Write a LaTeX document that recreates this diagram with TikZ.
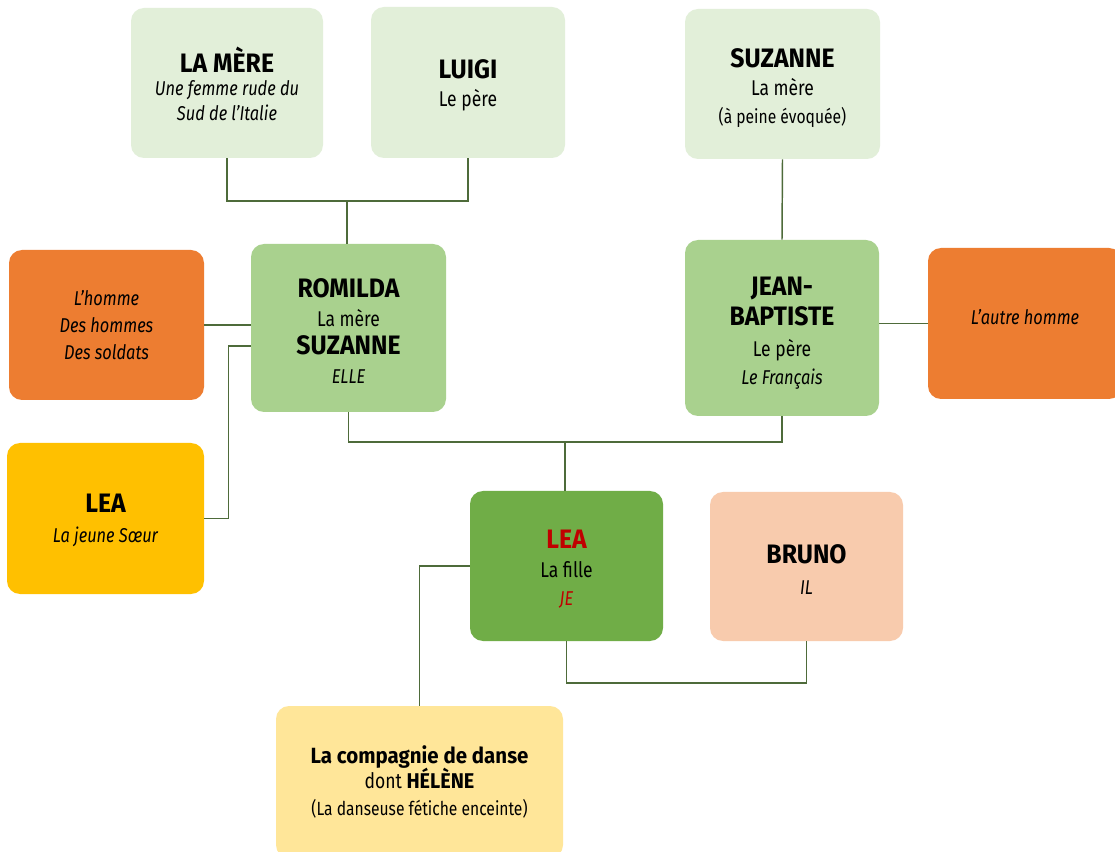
\documentclass[tikz,border=0pt]{standalone}
\usepackage{fontspec}
\setmainfont{Fira Sans}[FakeStretch=0.82]
\newfontfamily\titfont{Fira Sans}[FakeStretch=0.93]
\newdimen\upx \upx=0.75pt
\definecolor{cpale}{HTML}{E2EFD9}
\definecolor{cmid}{HTML}{A9D18E}
\definecolor{corange}{HTML}{ED7D31}
\definecolor{cgold}{HTML}{FFC000}
\definecolor{cgreen}{HTML}{70AD47}
\definecolor{cpeach}{HTML}{F8CBAD}
\definecolor{clight}{HTML}{FFE699}
\definecolor{cline}{HTML}{4E6B3A}
\definecolor{cred}{HTML}{C00000}
\newcommand{\tit}[1]{{\titfont\fontsize{20}{22}\selectfont\bfseries #1}}
\newcommand{\reg}[1]{{\fontsize{16}{19}\selectfont #1}}
\newcommand{\itl}[1]{{\fontsize{15}{19}\selectfont\itshape #1}}
\newcommand{\sml}[1]{{\fontsize{14.3}{17}\selectfont #1}}
\tikzset{
  box/.style={rounded corners=13\upx, inner sep=0pt},
  txt/.style={inner sep=0pt, align=center, font=\fontsize{14}{20}\selectfont},
  link/.style={draw=cline, line width=1.1pt}
}
\begin{document}
\begin{tikzpicture}[x=0.75pt,y=-0.75pt]
\useasboundingbox (0,0) rectangle (1115,852);
\fill[white] (0,0) rectangle (1115,852);

% boxes
\node[box, fill=cpale, minimum width=192\upx, minimum height=150\upx] (mere) at (227,83) {};
\node[box, fill=cpale, minimum width=194\upx, minimum height=151\upx] (luigi) at (468,82.5) {};
\node[box, fill=cpale, minimum width=195\upx, minimum height=150\upx] (suz) at (782.5,84) {};
\node[box, fill=cmid, minimum width=195\upx, minimum height=168\upx] (romilda) at (348.5,328) {};
\node[box, fill=cmid, minimum width=194\upx, minimum height=176\upx] (jb) at (782,328) {};
\node[box, fill=corange, minimum width=195\upx, minimum height=150\upx] (homme) at (106.5,325) {};
\node[box, fill=corange, minimum width=194\upx, minimum height=151\upx] (autre) at (1025,323.5) {};
\node[box, fill=cgold, minimum width=197\upx, minimum height=151\upx] (leay) at (105.5,518.5) {};
\node[box, fill=cgreen, minimum width=193\upx, minimum height=150\upx] (lea) at (566.5,566) {};
\node[box, fill=cpeach, minimum width=193\upx, minimum height=149\upx] (bruno) at (806.5,566.5) {};
\node[box, fill=clight, minimum width=287\upx, minimum height=152\upx] (comp) at (419.5,782) {};

% texts
\node[txt] (mereT) at ([yshift=-1\upx]mere.center)
  {\tit{LA MÈRE}\\[-3pt] \itl{Une femme rude du}\\[-1pt] \itl{Sud de l’Italie}};
\node[txt] (luigiT) at ([yshift=-3\upx]luigi.center)
  {\tit{LUIGI}\\[1pt] \reg{Le père}};
\node[txt] (suzT) at ([yshift=-4\upx]suz.center)
  {\tit{SUZANNE}\\[1pt] \reg{La mère}\\[1pt] \sml{(à peine évoquée)}};
\node[txt] (romildaT) at ([yshift=-3\upx]romilda.center)
  {\tit{ROMILDA}\\[2pt] \reg{La mère}\\[1pt] \tit{SUZANNE}\\[2pt] \itl{ELLE}};
\node[txt] (jbT) at ([yshift=-5\upx]jb.center)
  {\tit{JEAN-}\\[2.5pt] \tit{BAPTISTE}\\[3pt] \reg{Le père}\\[1pt] \itl{Le Français}};
\node[txt] (hommeT) at (homme.center)
  {\itl{L’homme}\\[0pt] \itl{Des hommes}\\[0pt] \itl{Des soldats}};
\node[txt] (autreT) at ([yshift=6\upx]autre.center)
  {\itl{L’autre homme}};
\node[txt] (leayT) at ([yshift=-2\upx]leay.center)
  {\tit{LEA}\\[3pt] \itl{La jeune Sœur}};
\node[txt] (leaT) at ([yshift=-3\upx]lea.center)
  {\textcolor{cred}{\tit{LEA}}\\[2pt] \reg{La fille}\\[1pt] \textcolor{cred}{\itl{JE}}};
\node[txt] (brunoT) at ([yshift=-3\upx]bruno.center)
  {\tit{BRUNO}\\[3.5pt] \itl{IL}};
\node[txt] (compT) at (comp.center)
  {{\titfont\fontsize{16.5}{19}\selectfont\bfseries La compagnie de danse}\\[-1pt]
   \reg{dont {\titfont\bfseries HÉLÈNE}}\\[0pt] \sml{(La danseuse fétiche enceinte)}};

% connectors
\coordinate (j1) at (347,201);
\coordinate (j2) at (565,442);
\coordinate (j3) at (566,683);

\draw[link] (mere.south) |- (j1) -| (luigi.south);
\draw[link] (j1) -- (j1 |- romilda.north);
\draw[link] (suz.south) -- (jb.north);
\draw[link] (homme.east) -- (homme.east -| romilda.west);
\draw[link] ([yshift=-18\upx]romilda.west) -| ([xshift=24\upx]leay.east) -- (leay.east);
\draw[link] (autre.west) -- (autre.west -| jb.east);
\draw[link] (romilda.south) |- (j2) -| (jb.south);
\draw[link] (j2) -- (j2 |- lea.north);
\draw[link] (lea.west) -| (comp.north);
\draw[link] (lea.south) |- (j3) -| (bruno.south);
\end{tikzpicture}
\end{document}
